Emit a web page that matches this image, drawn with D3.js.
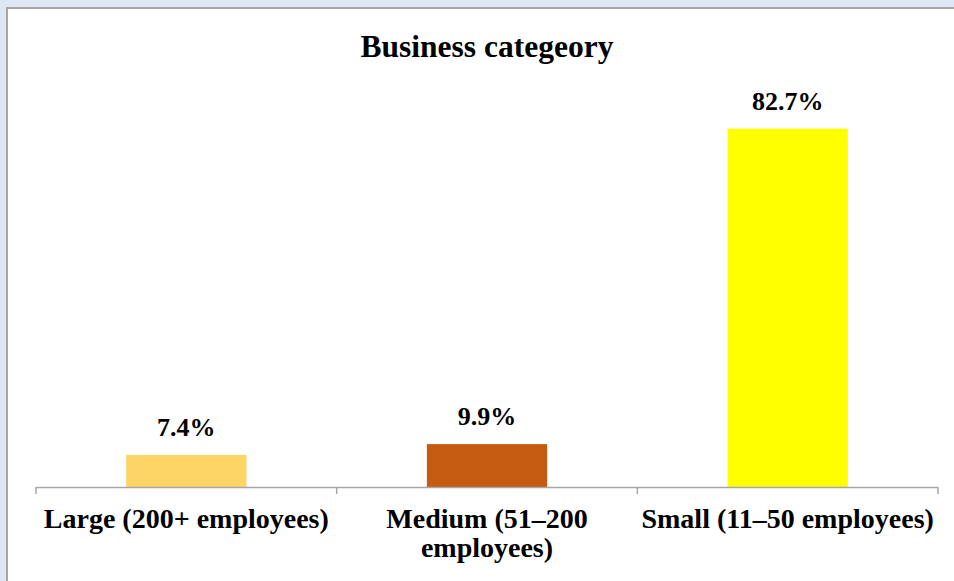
<!DOCTYPE html>
<html>
<head>
<meta charset="utf-8">
<script src="https://cdn.jsdelivr.net/npm/d3@7"></script>
<style>
  html, body { margin: 0; padding: 0; background: #dde8f4; }
  svg { display: block; }
  text { font-family: "Liberation Serif", "Times New Roman", serif; font-weight: bold; fill: #000; }
</style>
</head>
<body>
<svg id="chart" width="954" height="581"></svg>
<script>
// Share of respondents by business size
const categories = ["Large (200+ employees)", "Medium (51–200 employees)", "Small (11–50 employees)"];
const categoryLines = [["Large (200+ employees)"], ["Medium (51–200", "employees)"], ["Small (11–50 employees)"]];
const shares = [7.4, 9.9, 82.7];
const barColors = ["#fdd567", "#c55a11", "#ffff00"];
const chartTitle = "Business categeory";

const W = 954, H = 581;
const svg = d3.select("#chart");

// white chart panel with grey top/left edge
svg.append("rect").attr("x", 7).attr("y", 8).attr("width", W).attr("height", H)
  .attr("fill", "#fff").attr("stroke", "#a6a6a6").attr("stroke-width", 2);

const plot = { left: 36, right: 938, top: 97, bottom: 487 };

const x = d3.scaleBand().domain(categories).range([plot.left, plot.right]).paddingInner(0.6).paddingOuter(0.3);
const xTicks = d3.scaleBand().domain(categories).range([plot.left, plot.right]);
const y = d3.scaleLinear().domain([0, 90]).range([plot.bottom, plot.top]);

svg.append("text").attr("x", 487).attr("y", 57).attr("text-anchor", "middle")
  .style("font-size", "31.5px").text(chartTitle);

svg.selectAll("rect.bar").data(shares).join("rect").attr("class", "bar")
  .attr("x", (d, i) => x(categories[i]))
  .attr("width", x.bandwidth())
  .attr("y", d => y(d))
  .attr("height", d => y(0) - y(d))
  .attr("fill", (d, i) => barColors[i]);

svg.selectAll("text.val").data(shares).join("text").attr("class", "val")
  .attr("x", (d, i) => x(categories[i]) + x.bandwidth() / 2)
  .attr("y", d => y(d) - 19)
  .attr("text-anchor", "middle")
  .style("font-size", "26px")
  .text(d => d.toFixed(1) + "%");

// category axis with boundary ticks
const axisG = svg.append("g");
axisG.append("line").attr("x1", plot.left).attr("x2", plot.right)
  .attr("y1", plot.bottom + 0.5).attr("y2", plot.bottom + 0.5)
  .attr("stroke", "#a6a6a6").attr("stroke-width", 1.5);
const bounds = categories.map(c => xTicks(c)).concat([plot.right]);
axisG.selectAll("line.tick").data(bounds).join("line").attr("class", "tick")
  .attr("x1", d => d).attr("x2", d => d)
  .attr("y1", plot.bottom).attr("y2", plot.bottom + 7)
  .attr("stroke", "#a6a6a6").attr("stroke-width", 1.5);

const labels = svg.selectAll("text.cat").data(categoryLines).join("text").attr("class", "cat")
  .attr("text-anchor", "middle")
  .style("font-size", "28px");
labels.each(function(lines, i) {
  const cx = xTicks(categories[i]) + xTicks.bandwidth() / 2;
  d3.select(this).selectAll("tspan").data(lines).join("tspan")
    .attr("x", cx).attr("y", (d, j) => 528 + j * 29).text(d => d);
});
</script>
</body>
</html>
